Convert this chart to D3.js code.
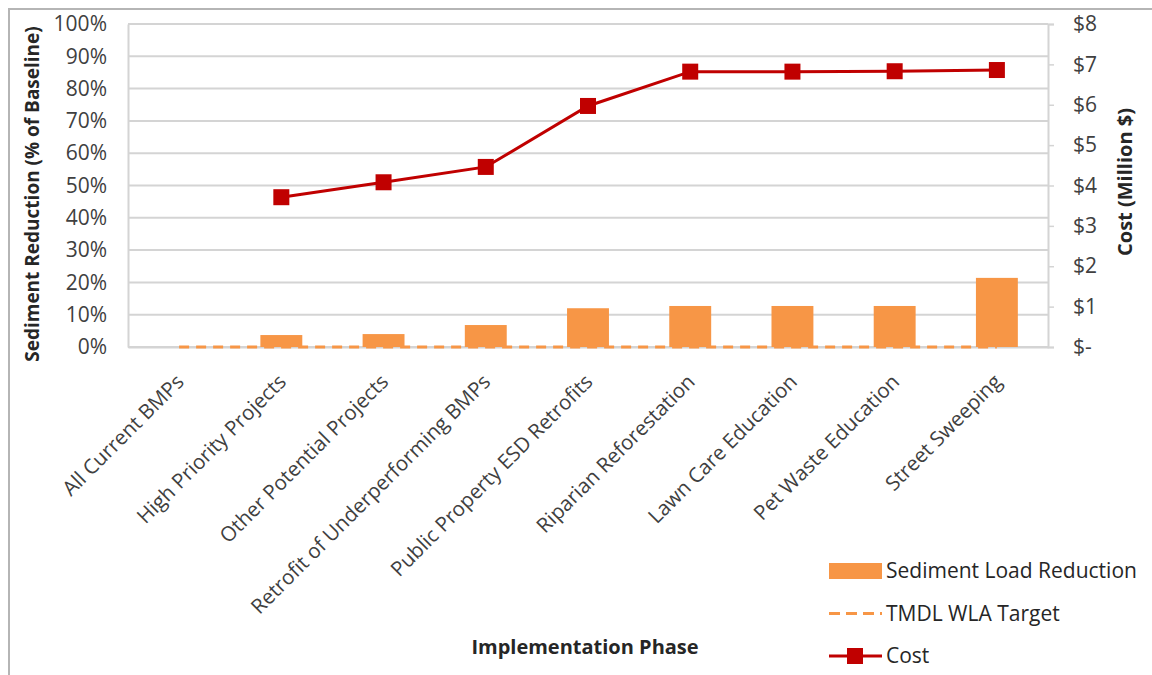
<!DOCTYPE html>
<html>
<head>
<meta charset="utf-8">
<script src="https://cdn.jsdelivr.net/npm/d3@7"></script>
<style>
  body { margin: 0; background: #fff; }
  svg { font-family: "Open Sans", Lato, sans-serif; }
</style>
</head>
<body>
<svg id="chart" width="1152" height="675"></svg>
<script>
// data
const categories = ['All Current BMPs', 'High Priority Projects', 'Other Potential Projects',
    'Retrofit of Underperforming BMPs', 'Public Property ESD Retrofits', 'Riparian Reforestation',
    'Lawn Care Education', 'Pet Waste Education', 'Street Sweeping'];
const sedimentReduction = [0, 3.7, 4.0, 6.8, 12.0, 12.7, 12.7, 12.7, 21.4];   // %
const wlaTarget = [0, 0, 0, 0, 0, 0, 0, 0, 0];                                  // %
const cost = [null, 3.71, 4.08, 4.46, 5.97, 6.82, 6.82, 6.83, 6.86];            // million $
const pctTicks = d3.range(0, 101, 10);
const costTicks = d3.range(0, 9, 1);

const barColor = '#f79646';
const lineColor = '#c00000';
const gridColor = '#d4d4d4';
const textColor = '#404040';

const margin = { top: 24, right: 104, bottom: 328, left: 128 };
const width = 1152 - margin.left - margin.right;
const height = 675 - margin.top - margin.bottom;

const svg = d3.select('#chart');

// outer frame
svg.append('rect')
    .attr('x', 9).attr('y', 9)
    .attr('width', 1160).attr('height', 680)
    .attr('fill', 'none').attr('stroke', '#b5b5b5').attr('stroke-width', 2);

const g = svg.append('g').attr('transform', `translate(${margin.left},${margin.top})`);

const x = d3.scaleBand().domain(categories).range([0, width]).paddingInner(0.59).paddingOuter(0.295);
const xc = d => x(d) + x.bandwidth() / 2;
const y = d3.scaleLinear().domain([0, 100]).range([height, 0]);
const y2 = d3.scaleLinear().domain([0, 8]).range([height, 0]);

// gridlines
g.append('g')
    .selectAll('line')
    .data(pctTicks)
    .enter()
    .append('line')
    .attr('x1', 0).attr('x2', width)
    .attr('y1', d => y(d)).attr('y2', d => y(d))
    .attr('stroke', gridColor).attr('stroke-width', 2);

// left axis
const leftAxis = g.append('g')
    .call(d3.axisLeft(y).tickValues(pctTicks).tickFormat(d => d + '%').tickSize(0).tickPadding(21))
    .attr('font-family', null);
leftAxis.select('.domain').attr('stroke', gridColor).attr('stroke-width', 2);
leftAxis.selectAll('text').attr('font-size', 21).attr('fill', textColor);

// right axis
const rightAxis = g.append('g')
    .attr('transform', `translate(${width},0)`)
    .call(d3.axisRight(y2).tickValues(costTicks).tickFormat(d => d === 0 ? '$-' : '$' + d).tickSize(6).tickPadding(19))
    .attr('font-family', null);
rightAxis.select('.domain').attr('stroke', gridColor).attr('stroke-width', 2);
rightAxis.selectAll('.tick line').attr('stroke', gridColor).attr('stroke-width', 1.5);
rightAxis.selectAll('text').attr('font-size', 21).attr('fill', textColor);

// bottom axis
const bottomAxis = g.append('g')
    .attr('transform', `translate(0,${height})`)
    .call(d3.axisBottom(x).tickSize(0).tickPadding(0))
    .attr('font-family', null);
bottomAxis.select('.domain').attr('stroke', gridColor).attr('stroke-width', 2);
bottomAxis.selectAll('text')
    .attr('font-size', 20.5)
    .attr('fill', textColor)
    .attr('text-anchor', 'end')
    .attr('y', 0)
    .attr('dy', 0)
    .attr('transform', 'translate(6,36) rotate(-45)');

// target line (dashed, at 0)
g.append('path')
    .datum(wlaTarget)
    .attr('fill', 'none')
    .attr('stroke', barColor)
    .attr('stroke-width', 3)
    .attr('stroke-dasharray', '10,7')
    .attr('d', d3.line().x((d, i) => xc(categories[i])).y(d => y(d)));

// bars
g.append('g')
    .selectAll('rect')
    .data(sedimentReduction)
    .enter()
    .append('rect')
    .attr('x', (d, i) => x(categories[i]))
    .attr('width', x.bandwidth())
    .attr('y', d => y(d))
    .attr('height', d => height - y(d))
    .attr('fill', barColor);

// cost line
g.append('path')
    .datum(cost)
    .attr('fill', 'none')
    .attr('stroke', lineColor)
    .attr('stroke-width', 3)
    .attr('d', d3.line().defined(d => d !== null).x((d, i) => xc(categories[i])).y(d => y2(d)));

g.append('g')
    .selectAll('rect')
    .data(cost.map((d, i) => ({ c: categories[i], v: d })).filter(d => d.v !== null))
    .enter()
    .append('rect')
    .attr('x', d => xc(d.c) - 8)
    .attr('y', d => y2(d.v) - 8)
    .attr('width', 16).attr('height', 16)
    .attr('fill', lineColor);

// axis titles
svg.append('text')
    .attr('transform', 'translate(39,194) rotate(-90)')
    .attr('text-anchor', 'middle')
    .attr('font-size', 19).attr('font-weight', 'bold').attr('fill', '#262626')
    .text('Sediment Reduction (% of Baseline)');

svg.append('text')
    .attr('transform', 'translate(1132,182) rotate(-90)')
    .attr('text-anchor', 'middle')
    .attr('font-size', 20).attr('font-weight', 'bold').attr('fill', '#262626')
    .text('Cost (Million $)');

svg.append('text')
    .attr('x', 585).attr('y', 654)
    .attr('text-anchor', 'middle')
    .attr('font-size', 20).attr('font-weight', 'bold').attr('fill', '#262626')
    .text('Implementation Phase');

// legend
const legendItems = [
    { label: 'Sediment Load Reduction', type: 'bar' },
    { label: 'TMDL WLA Target', type: 'dash' },
    { label: 'Cost', type: 'line' }
];
const legend = svg.append('g').attr('transform', 'translate(829,571)');
const rows = legend.selectAll('g')
    .data(legendItems)
    .enter()
    .append('g')
    .attr('transform', (d, i) => `translate(0,${i * 42.5})`);

rows.filter(d => d.type === 'bar').append('rect')
    .attr('x', 0).attr('y', -8).attr('width', 53).attr('height', 16).attr('fill', barColor);
rows.filter(d => d.type === 'dash').append('line')
    .attr('x1', 0).attr('x2', 53).attr('y1', 0).attr('y2', 0)
    .attr('stroke', barColor).attr('stroke-width', 3).attr('stroke-dasharray', '11,6');
const costRow = rows.filter(d => d.type === 'line');
costRow.append('line')
    .attr('x1', 0).attr('x2', 53).attr('y1', 0).attr('y2', 0)
    .attr('stroke', lineColor).attr('stroke-width', 3);
costRow.append('rect')
    .attr('x', 18).attr('y', -8).attr('width', 16).attr('height', 16).attr('fill', lineColor);

rows.append('text')
    .attr('x', 57).attr('y', 0).attr('dy', '0.35em')
    .attr('font-size', 21).attr('fill', '#262626')
    .text(d => d.label);
</script>
</body>
</html>
